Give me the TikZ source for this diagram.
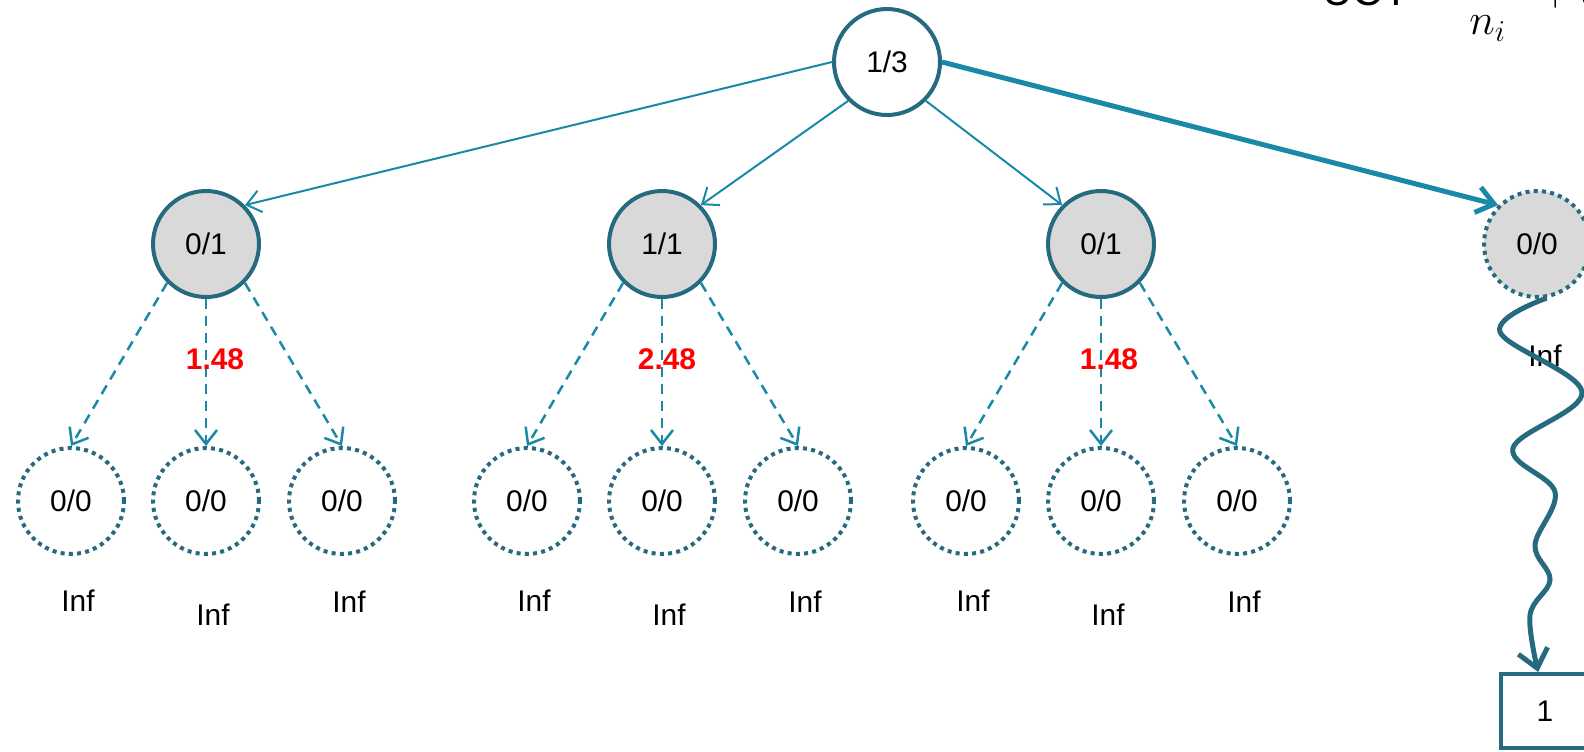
\documentclass[tikz,border=0pt]{standalone}
\usepackage{fontspec}
\setmainfont{Liberation Sans}
\usetikzlibrary{arrows.meta,positioning}
\definecolor{nodeline}{RGB}{37,106,126}
\definecolor{edgeline}{RGB}{26,137,167}
\definecolor{visitfill}{RGB}{217,217,217}

\begin{document}
\begin{tikzpicture}[x=0.02cm,y=-0.02cm,
      treenode/.style={circle,draw=nodeline,line width=0.08cm,
                       minimum size=2.12cm,inner sep=0pt,
                       font=\fontsize{17}{20}\selectfont},
      visited/.style={treenode,fill=visitfill},
      fresh/.style={treenode,dash pattern=on 0.08cm off 0.085cm},
      leafbox/.style={draw=nodeline,line width=0.08cm,minimum width=1.76cm,
                      minimum height=1.48cm,inner sep=0pt,
                      font=\fontsize{17}{20}\selectfont},
      inflabel/.style={font=\fontsize{17}{20}\selectfont},
      score/.style={text=red,font=\fontsize{17}{20}\selectfont\bfseries},
      edge/.style={-{Straight Barb[length=0.28cm,width=0.44cm]},
                   draw=edgeline,line width=0.04cm},
      mainedge/.style={-{Straight Barb[length=0.34cm,width=0.52cm]},
                       draw=edgeline,line width=0.1cm},
      trial/.style={edge,dash pattern=on 0.2cm off 0.14cm,line width=0.05cm},
      wave/.style={-{Straight Barb[length=0.36cm,width=0.6cm]},
                   draw=nodeline,line width=0.1cm},
    ]
    \useasboundingbox (0,0) rectangle (1584,751);

    % Formula (cut off by the top edge)
    \node[anchor=base west,inner sep=0pt,font=\fontsize{24}{28}\selectfont]
      (formula) at (1322,5)
      {UCT =\hspace{11pt}$\displaystyle\frac{w_i}{n_i}\hspace{11pt}
       +c\sqrt{\frac{\ln N}{n_i}}$};

    % Root and first level
    \node[treenode] (root) at (887,62) {1/3};
    \node[visited] (n1) at (206,244) {0/1};
    \node[visited] (n2) at (662,244) {1/1};
    \node[visited] (n3) at (1101,244) {0/1};
    \node[fresh,fill=visitfill] (n4) at (1537,244) {0/0};

    \draw[edge] (root.west) -- (n1.north east);
    \draw[edge] (root.south west) -- (n2.north east);
    \draw[edge] (root.south east) -- (n3.north west);
    \draw[mainedge] (root.east) -- (n4.north west);

    % Second level, not yet tried
    \foreach \i/\cx in {1/206,2/662,3/1101}{
      \foreach \j/\dx/\iy in {a/-135/601,b/0/615,c/136/602}{
        \node[fresh] (n\i\j) at (\cx+\dx,501) {0/0};
        \node[inflabel] at (\cx+\dx+7,\iy) {Inf};
      }
      \draw[trial] (n\i.south west) -- (n\i a.north);
      \draw[trial] (n\i.south) -- (n\i b.north);
      \draw[trial] (n\i.south east) -- (n\i c.north);
    }

    % Scores
    \node[score] at (215,359) {1.48};
    \node[score] at (667,359) {2.48};
    \node[score] at (1109,359) {1.48};

    % Rollout
    \node[inflabel] at (1545,356) {Inf};
    \node[leafbox] (leaf) at (1545,711) {1};
    \draw[wave] plot[smooth,tension=0.6] coordinates {(n4.-80) (1500,332)
      (1582,392) (1513,448) (1555,492) (1535,545) (1550,580) (1530,615)
      (leaf.100)};

  \end{tikzpicture}
\end{document}
